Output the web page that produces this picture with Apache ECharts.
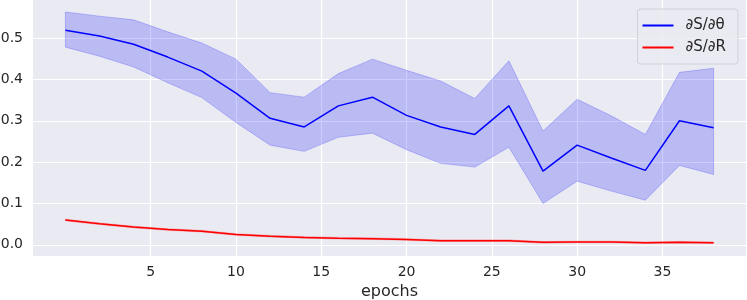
<!DOCTYPE html>
<html>
<head>
<meta charset="utf-8">
<script src="https://cdn.jsdelivr.net/npm/echarts@6/dist/echarts.min.js"></script>
<style>
html,body{margin:0;padding:0;background:#fff;}
#chart{width:747px;height:300px;}
</style>
</head>
<body>
<div id="chart"></div>
<script>
const epochs = [0,2,4,6,8,10,12,14,16,18,20,22,24,26,28,30,32,34,36,38];
const thetaMean = [0.519,0.505,0.485,0.454,0.420,0.367,0.306,0.285,0.336,0.357,0.313,0.285,0.267,0.336,0.178,0.241,0.210,0.180,0.300,0.283];
const thetaUpper = [0.563,0.553,0.544,0.515,0.488,0.449,0.368,0.357,0.414,0.449,0.422,0.396,0.354,0.445,0.275,0.352,0.312,0.267,0.417,0.427];
const thetaLower = [0.478,0.456,0.430,0.392,0.356,0.296,0.241,0.226,0.260,0.270,0.230,0.197,0.188,0.236,0.100,0.154,0.130,0.108,0.192,0.170];
const rMean = [0.060,0.051,0.043,0.037,0.033,0.025,0.021,0.018,0.016,0.015,0.013,0.010,0.010,0.010,0.006,0.007,0.007,0.005,0.006,0.005];
const rUpper = [0.062,0.053,0.045,0.039,0.035,0.027,0.023,0.020,0.018,0.017,0.015,0.012,0.012,0.012,0.008,0.009,0.009,0.007,0.008,0.007];
const rLower = [0.058,0.049,0.041,0.035,0.031,0.023,0.019,0.016,0.014,0.013,0.011,0.008,0.008,0.008,0.004,0.005,0.005,0.003,0.004,0.003];
const xTicks = [5,10,15,20,25,30,35];
const yTicks = [0.0,0.1,0.2,0.3,0.4,0.5];

const pairs = (ys) => epochs.map((x,i) => [x, ys[i]]);

function bandSeries(upper, lower, color){
  return {
    type:'custom', silent:true, clip:true, z:1,
    data:[[epochs[0], upper[0]]],
    renderItem:(params, api) => {
      const pts = [];
      for (let i = 0; i < epochs.length; i++) pts.push(api.coord([epochs[i], upper[i]]));
      for (let i = epochs.length - 1; i >= 0; i--) pts.push(api.coord([epochs[i], lower[i]]));
      return {type:'polygon', shape:{points:pts}, style:{fill:color, stroke:color, lineWidth:1}};
    }
  };
}

const chart = echarts.init(document.getElementById('chart'), null, {renderer:'canvas'});
const font = 'DejaVu Sans';
chart.setOption({
  animation:false,
  backgroundColor:'#ffffff',
  textStyle:{fontFamily:font},
  grid:{left:33,right:1,top:0,bottom:44,show:true,backgroundColor:'#EAEAF2',borderWidth:0,
        containLabel:false, outerBoundsMode:'none'},
  legend:{
    data:['∂S/∂θ','∂S/∂R'],
    orient:'vertical',
    right:9, top:9,
    padding:[8,12,8,5],
    itemGap:5,
    itemWidth:31, itemHeight:2,
    icon:'rect',
    backgroundColor:'rgba(234,234,242,0.85)',
    borderColor:'#d0d0d8',borderWidth:1,borderRadius:3,
    textStyle:{fontFamily:font,fontSize:15,lineHeight:17,color:'#262626',padding:[0,0,0,7]}
  },
  xAxis:{
    type:'value', min:-1.9, max:39.9,
    axisLine:{show:false}, axisTick:{show:false, customValues:xTicks},
    splitLine:{show:true, customValues:xTicks, lineStyle:{color:'#ffffff',width:1.2}},
    axisLabel:{customValues:xTicks, color:'#262626', fontSize:14, fontFamily:font, margin:9},
    name:'epochs', nameLocation:'middle', nameGap:27,
    nameTextStyle:{color:'#262626', fontSize:16, fontFamily:font}
  },
  yAxis:{
    type:'value', min:-0.027, max:0.592,
    axisLine:{show:false}, axisTick:{show:false, customValues:yTicks},
    splitLine:{show:true, customValues:yTicks, lineStyle:{color:'#ffffff',width:1.2}},
    axisLabel:{customValues:yTicks, color:'#262626', fontSize:14, fontFamily:font, margin:10,
      formatter:v=>v.toFixed(1)}
  },
  series:[
    bandSeries(thetaUpper, thetaLower, 'rgba(0,0,255,0.2)'),
    bandSeries(rUpper, rLower, 'rgba(255,0,0,0.2)'),
    {name:'∂S/∂θ', type:'line', data:pairs(thetaMean), symbol:'none', color:'#0000ff', z:3,
     lineStyle:{color:'#0000ff',width:1.5}},
    {name:'∂S/∂R', type:'line', data:pairs(rMean), symbol:'none', color:'#ff0000', z:3,
     lineStyle:{color:'#ff0000',width:1.5}}
  ]
});
</script>
</body>
</html>
